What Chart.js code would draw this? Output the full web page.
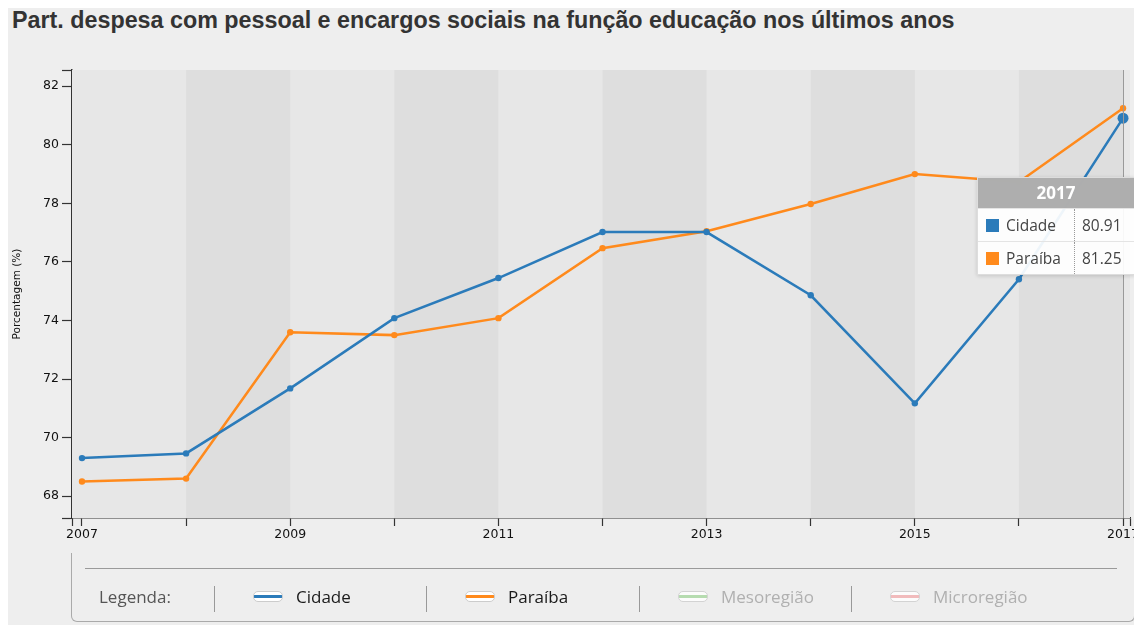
<!DOCTYPE html>
<html>
<head>
<meta charset="utf-8">
<script src="https://cdn.jsdelivr.net/npm/chart.js@4"></script>
<style>
    body { margin: 0; width: 1134px; height: 625px; overflow: hidden; background: #fff; position: relative; font-family: "Liberation Sans", Arial, sans-serif; }
    #panel { position: absolute; left: 8px; top: 8px; width: 1126px; height: 617px; background: #eeeeee; }
    #title { position: absolute; left: 12px; top: 7px; font: bold 23.3px "Liberation Sans", Arial, sans-serif; color: #333; white-space: nowrap; }
    #wrap { position: absolute; left: 0; top: 0; width: 1150px; height: 560px; }
    #legendBox { position: absolute; left: 71px; top: 553px; width: 1062px; height: 68px; border: 1px solid #aaa; border-top: none; border-radius: 0 0 6px 6px; }
    #legendLine { position: absolute; left: 85px; top: 568px; width: 1032px; height: 1px; background: #9a9a9a; }
    .lg { position: absolute; top: 585px; font: 17px "Open Sans", sans-serif; white-space: nowrap; }
    .sep { position: absolute; top: 586px; width: 1px; height: 26px; background: #999; }
    .sw { position: absolute; top: 591px; width: 28px; height: 9px; border: 1px solid #ccc; border-radius: 5px; }
    #tip { position: absolute; width: 156px; background: rgba(255,255,255,0.92); border: 1px solid #ddd; box-shadow: 0 1px 4px rgba(0,0,0,0.15); font: 15.5px "Open Sans", sans-serif; color: #444; }
    #tip .hd { height: 30px; line-height: 30px; background: rgba(170,170,170,0.95); color: #fff; font-weight: bold; font-size: 17px; text-align: center; }
    #tip .row { position: relative; height: 32px; line-height: 32px; border-top: 1px solid #e4e4e4; }
    #tip .sq { position: absolute; left: 8px; top: 10px; width: 13px; height: 13px; }
    #tip .nm { position: absolute; left: 28px; }
    #tip .vl { position: absolute; left: 96px; padding-left: 7px; border-left: 1px dotted #999; }
</style>
</head>
<body>
<div id="panel"></div>
<div id="title">Part. despesa com pessoal e encargos sociais na função educação nos últimos anos</div>
<div id="wrap"><canvas id="lineChart"></canvas></div>
<div id="legendBox"></div>
<div id="legendLine"></div>
<div id="legend"></div>
<div id="tip"></div>
<script>
// dados
const years = [2007, 2008, 2009, 2010, 2011, 2012, 2013, 2014, 2015, 2016, 2017];
const cidade = [69.3, 69.46, 71.68, 74.08, 75.45, 77.02, 77.02, 74.86, 71.17, 75.41, 80.91];
const paraiba = [68.5, 68.6, 73.6, 73.5, 74.08, 76.47, 77.05, 77.98, 79.0, 78.73, 81.25];
const yTicks = [68, 70, 72, 74, 76, 78, 80, 82];
const xLabels = [2007, 2009, 2011, 2013, 2015, 2017];
const legendItems = ['Cidade', 'Paraíba', 'Mesoregião', 'Microregião'];
const hoverYear = 2017;

const BLUE = '#2b7bba';
const ORANGE = '#ff8a1c';
const legendColors = [BLUE, ORANGE, '#a8d8a0', '#f2aeb0'];

// legenda
const legend = document.getElementById('legend');
let html = '<div class="lg" style="left:99px;color:#555">Legenda:</div>';
legendItems.forEach((name, i) => {
    const x = 214 + i * 212.3;
    const faded = i > 1;
    const c = legendColors[i];
    html += `<div class="sep" style="left:${Math.round(x)}px"></div>`;
    html += `<div class="sw" style="left:${Math.round(x + 39)}px;${faded ? 'opacity:0.8;' : ''}background:linear-gradient(#fff 30%, ${c} 30%, ${c} 72%, #fff 72%)"></div>`;
    html += `<div class="lg" style="left:${Math.round(x + 82)}px;color:${faded ? '#b0b0b0' : '#1a1a1a'}">${name}</div>`;
});
legend.innerHTML = html;

const series = [
    { label: 'Cidade', data: cidade, color: BLUE },
    { label: 'Paraíba', data: paraiba, color: ORANGE }
];

// faixas alternadas no fundo
const bandsPlugin = {
    id: 'bands',
    beforeDatasetsDraw(chart) {
        const { ctx, chartArea: a, scales: { x } } = chart;
        ctx.save();
        ctx.fillStyle = '#e7e7e7';
        ctx.fillRect(a.left, a.top, a.right - a.left, a.bottom - a.top);
        ctx.fillStyle = '#dedede';
        for (let i = 1; i < years.length - 1; i += 2) {
            const x1 = x.getPixelForValue(years[i]);
            const x2 = x.getPixelForValue(years[i + 1]);
            ctx.fillRect(x1, a.top, x2 - x1, a.bottom - a.top);
        }
        ctx.restore();
    },
    afterDatasetsDraw(chart) {
        const { ctx, chartArea: a, scales: { x } } = chart;
        const px = Math.round(x.getPixelForValue(hoverYear)) + 0.5;
        ctx.save();
        ctx.strokeStyle = '#999';
        ctx.lineWidth = 1;
        ctx.beginPath();
        ctx.moveTo(px, a.top);
        ctx.lineTo(px, a.bottom);
        ctx.stroke();
        ctx.restore();
    },
    afterDraw(chart) {
        // tooltip fixo em 2017
        const { chartArea: a, scales: { x } } = chart;
        const idx = years.indexOf(hoverYear);
        const tip = document.getElementById('tip');
        let t = `<div class="hd">${hoverYear}</div>`;
        series.forEach(s => {
            t += `<div class="row"><div class="sq" style="background:${s.color}"></div><span class="nm">${s.label}</span><span class="vl">${s.data[idx].toFixed(2)}</span></div>`;
        });
        tip.innerHTML = t;
        tip.style.left = Math.round(x.getPixelForValue(hoverYear) - 146) + 'px';
        tip.style.top = Math.round(a.top + 107) + 'px';
    }
};

const lastIdx = years.length - 1;
const tickFont = { family: 'DejaVu Sans', size: 12.5 };

new Chart(document.getElementById('lineChart').getContext('2d'), {
    type: 'line',
    data: {
        datasets: series.map(s => ({
            label: s.label,
            data: years.map((yr, i) => ({ x: yr, y: s.data[i] })),
            borderColor: s.color,
            backgroundColor: s.color,
            borderWidth: 2.5,
            tension: 0,
            pointRadius: ctx => (ctx.dataIndex === lastIdx && s.label === 'Cidade') ? 5.5 : 3.2,
            pointBorderWidth: 0,
            fill: false
        }))
    },
    options: {
        responsive: true,
        maintainAspectRatio: false,
        animation: false,
        layout: { padding: { left: 0, top: 70, right: 20, bottom: 12 } },
        scales: {
            x: {
                type: 'linear',
                min: 2006.904,
                max: 2017.067,
                afterFit: s => { s.height = 30; },
                afterBuildTicks: s => {
                    s.ticks = [s.min, ...years, s.max].map(v => ({ value: v }));
                },
                ticks: {
                    autoSkip: false,
                    maxRotation: 0,
                    padding: 1,
                    color: '#111',
                    font: tickFont,
                    callback: v => xLabels.includes(v) ? String(v) : ''
                },
                grid: { drawOnChartArea: false, drawTicks: true, tickLength: 8, tickColor: '#333', tickWidth: 1.2 },
                border: { color: '#333', width: 1.5 }
            },
            y: {
                min: 67.254,
                max: 82.555,
                afterFit: s => { s.width = 72; },
                afterBuildTicks: s => {
                    s.ticks = [s.min, ...yTicks, s.max].map(v => ({ value: v }));
                },
                ticks: {
                    padding: 3,
                    color: '#111',
                    font: tickFont,
                    callback: v => yTicks.includes(v) ? String(v) : ''
                },
                grid: {
                    color: ctx => yTicks.includes(ctx.tick && ctx.tick.value) ? '#a8a8a8' : 'transparent',
                    tickColor: '#333',
                    tickLength: 10,
                    tickWidth: 1.2
                },
                border: { color: '#333', width: 1.5, dash: [4, 4] },
                title: {
                    display: true,
                    text: 'Porcentagem (%)',
                    color: '#111',
                    font: { family: 'DejaVu Sans', size: 10.5 },
                    padding: { top: 11, bottom: 0 }
                }
            }
        },
        plugins: {
            legend: { display: false },
            tooltip: { enabled: false }
        }
    },
    plugins: [bandsPlugin]
});
</script>
</body>
</html>
